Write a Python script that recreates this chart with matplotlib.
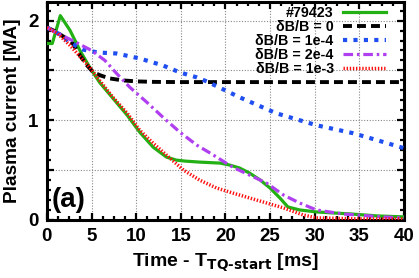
import matplotlib
matplotlib.use("Agg")
import matplotlib.pyplot as plt
from matplotlib.ticker import MultipleLocator, FuncFormatter

# ---- data ----
t_exp = [0.0, 0.6, 1.5, 2.6, 3.7, 4.8, 5.9, 7.4, 9.0, 10.4, 11.9, 13.4, 14.5, 15.5, 17.1,
         19.4, 20.5, 21.6, 22.7, 23.9, 25.0, 26.1, 27.0, 28.3, 30.2, 32.0, 34.0, 37.0, 40.0]
I_exp = [1.77, 1.77, 2.05, 1.90, 1.70, 1.53, 1.38, 1.22, 1.05, 0.88, 0.73, 0.63, 0.60, 0.59, 0.58,
         0.57, 0.55, 0.52, 0.47, 0.40, 0.32, 0.22, 0.13, 0.10, 0.08, 0.07, 0.06, 0.04, 0.03]

t_0 = [0.0, 1.0, 2.0, 2.9, 3.7, 4.5, 5.2, 6.0, 7.0, 8.5, 10.0, 12.0, 15.0, 20.0, 30.0, 40.0]
I_0 = [1.93, 1.89, 1.83, 1.77, 1.65, 1.55, 1.48, 1.45, 1.42, 1.40, 1.39, 1.385, 1.383, 1.383, 1.383, 1.383]

t_1e4 = [0.0, 1.5, 2.6, 4.0, 5.7, 7.8, 10.4, 13.0, 14.9, 16.8, 17.9, 21.6, 25.7, 30.2, 34.3, 37.0, 40.0]
I_1e4 = [1.93, 1.86, 1.78, 1.71, 1.68, 1.67, 1.62, 1.55, 1.48, 1.43, 1.39, 1.23, 1.07, 0.95, 0.87, 0.80, 0.72]

t_2e4 = [0.0, 1.5, 3.3, 5.0, 6.5, 7.8, 9.3, 11.2, 13.0, 14.9, 16.8, 18.3, 20.8, 22.7, 24.6,
         26.5, 28.3, 30.2, 33.1, 37.6, 40.0]
I_2e4 = [1.93, 1.86, 1.78, 1.70, 1.60, 1.47, 1.33, 1.18, 1.03, 0.88, 0.75, 0.67, 0.53, 0.45, 0.37,
         0.25, 0.17, 0.10, 0.06, 0.03, 0.02]

t_1e3 = [0.0, 1.2, 2.6, 3.7, 4.8, 5.9, 7.4, 9.0, 10.4, 11.9, 13.4, 15.3, 17.1, 19.0, 20.8, 22.7,
         24.6, 26.5, 28.7, 30.2, 35.0, 40.0]
I_1e3 = [1.93, 1.87, 1.75, 1.64, 1.53, 1.40, 1.23, 1.07, 0.90, 0.77, 0.65, 0.50, 0.40, 0.32, 0.27, 0.22,
         0.17, 0.12, 0.05, 0.02, 0.01, 0.01]

labels = ["#79423", "δB/B = 0", "δB/B = 1e-4", "δB/B = 2e-4", "δB/B = 1e-3"]
xticks = [0, 5, 10, 15, 20, 25, 30, 35, 40]
yticks = [0, 1, 2]

plt.rcParams['font.family'] = ['Liberation Sans', 'DejaVu Sans']
plt.rcParams['font.weight'] = 'bold'

fig = plt.figure(figsize=(4.19, 2.78), dpi=100)
ax = fig.add_axes([0.112, 0.209, 0.852, 0.785])

ax.plot(t_exp, I_exp, color='#22b014', lw=2.3, label=labels[0], zorder=3)
ax.plot(t_0, I_0, color='black', lw=2.8, dashes=(2.3, 1.3), label=labels[1], zorder=3)
ax.plot(t_1e4, I_1e4, color='#1f4ff0', lw=3.0, dashes=(1.0, 1.5), label=labels[2], zorder=3)
ax.plot(t_2e4, I_2e4, color='#b03ff0', lw=2.3, dashes=(3.0, 1.2, 0.8, 1.2), label=labels[3], zorder=3)
ax.plot(t_1e3, I_1e3, color='#ff1010', lw=2.5, dashes=(0.4, 0.5), label=labels[4], zorder=4)

ax.set_xlim(0, 40)
ax.set_ylim(0, 2.19)
ax.xaxis.set_major_locator(MultipleLocator(5))
ax.xaxis.set_minor_locator(MultipleLocator(1.25))
ax.yaxis.set_major_locator(MultipleLocator(0.5))
ax.yaxis.set_minor_locator(MultipleLocator(0.1))
ax.yaxis.set_major_formatter(FuncFormatter(lambda v, p: f"{int(round(v))}" if abs(v - round(v)) < 1e-6 and int(round(v)) in yticks else ""))
ax.xaxis.set_major_formatter(FuncFormatter(lambda v, p: f"{int(round(v))}" if int(round(v)) in xticks else ""))

ax.tick_params(which='both', direction='in', top=True, right=True, width=1.6)
ax.tick_params(which='major', length=5, labelsize=13.5)
ax.tick_params(axis='x', which='major', pad=6)
ax.tick_params(axis='y', which='major', pad=6)
ax.tick_params(which='minor', length=3)
for lab in ax.get_xticklabels() + ax.get_yticklabels():
    lab.set_fontweight('bold')
for s in ax.spines.values():
    s.set_linewidth(2.2)

ax.grid(True, which='major', color='#888888', linestyle=(0, (1, 1.5)), linewidth=0.8)

ax.set_ylabel("Plasma current [MA]", fontsize=13.7, fontweight='bold', labelpad=5)
ax.set_xlabel(r"Time - T$_{\mathbf{TQ\text{-}start}}$ [ms]", fontsize=14, fontweight='bold', labelpad=5)

ax.text(0.012, 0.03, "(a)", transform=ax.transAxes, fontsize=20, fontweight='bold',
        ha='left', va='bottom')

# legend box: right edge of handles at x~386 px, top at y~4 px
ax_w_px = 0.852 * 419
ax_h_px = 0.785 * 278
leg = ax.legend(loc='upper right', frameon=False, markerfirst=False,
                handlelength=3.0, handletextpad=0.65, labelspacing=0.0,
                borderpad=0.0, borderaxespad=0.0,
                bbox_to_anchor=((386 - 47) / ax_w_px, 1 - 4 / ax_h_px),
                prop={'weight': 'bold', 'size': 10.3})
for t in leg.get_texts():
    t.set_ha('right')

fig.savefig("out.png", dpi=100)
